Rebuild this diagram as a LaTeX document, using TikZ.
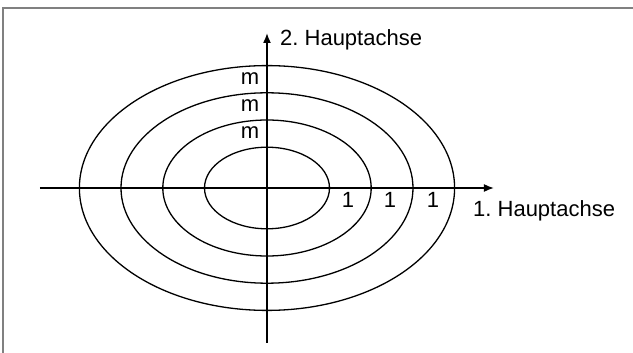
\documentclass[tikz,border=0pt]{standalone}
\usepackage{fontspec}
\setmainfont{Liberation Sans}
\usepackage{tikz}
\usetikzlibrary{arrows.meta,positioning}
\definecolor{framegray}{RGB}{128,128,128}

\begin{document}
\begin{tikzpicture}[
  x=1pt, y=1pt,
  font=\fontsize{22}{26}\selectfont,
  axis/.style={-{Latex[length=10pt,width=8pt]}, line width=1.6pt},
  level/.style={line width=1.3pt},
  lbl/.style={inner sep=0pt, anchor=base}
]
% Fix the page to the reference size
\useasboundingbox (-267,-165) rectangle (366,188);

% Gray frame (only top and left edges visible)
\draw[framegray, line width=1.2pt] (-264,-165) |- (366,180);

% Origin and axis ends
\coordinate (o) at (0,0);
\coordinate (xl) at (-227,0);
\coordinate (xr) at (227,0);
\coordinate (yb) at (0,-155);
\coordinate (yt) at (0,155);

% Contour ellipses
\draw[level] (o) ellipse [x radius=62.5, y radius=40.8];
\draw[level] (o) ellipse [x radius=104.2, y radius=68];
\draw[level] (o) ellipse [x radius=146, y radius=95.2];
\draw[level] (o) ellipse [x radius=187.6, y radius=122.4];

% Axes
\draw[axis] (xl) -- (xr);
\draw[axis] (yb) -- (yt);

% Axis names
\node[lbl, anchor=base west] (ax2) at (13,142) {2.~Hauptachse};
\node[lbl, anchor=base west] (ax1) at (206,-29) {1.~Hauptachse};

% Spacing labels along the 2nd axis
\node[lbl] (m3) at (-17,103) {m};
\node[lbl] (m2) at (-17,76) {m};
\node[lbl] (m1) at (-17,49) {m};

% Spacing labels along the 1st axis
\node[lbl] (l1) at (81,-20) {1};
\node[lbl] (l2) at (123,-20) {1};
\node[lbl] (l3) at (166,-20) {1};
\end{tikzpicture}
\end{document}
